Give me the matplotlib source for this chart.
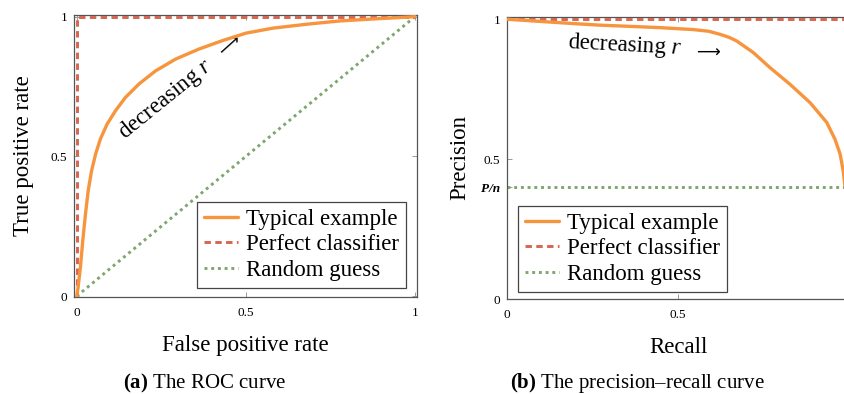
import numpy as np
import matplotlib
matplotlib.use('Agg')
import matplotlib.pyplot as plt

plt.rcParams['font.family'] = ['Liberation Serif', 'DejaVu Sans']
plt.rcParams['mathtext.fontset'] = 'custom'
plt.rcParams['mathtext.rm'] = 'Liberation Serif'
plt.rcParams['mathtext.it'] = 'Liberation Serif:italic'
plt.rcParams['mathtext.bf'] = 'Liberation Serif:bold'

# (a) ROC curve, typical example
fpr = [0, 0.004, 0.011, 0.018, 0.026, 0.034, 0.044, 0.056, 0.07, 0.09, 0.115, 0.144,
       0.184, 0.233, 0.292, 0.361, 0.43, 0.5, 0.58, 0.68, 0.78, 0.88, 1.0]
tpr = [0, 0.03, 0.104, 0.2, 0.295, 0.378, 0.449, 0.509, 0.5625, 0.616, 0.664, 0.711,
       0.759, 0.806, 0.848, 0.884, 0.914, 0.941, 0.959, 0.973, 0.985, 0.992, 1.0]
roc_perfect_x = [0, 0, 1]
roc_perfect_y = [0, 1, 1]
roc_random_x = [0, 1]
roc_random_y = [0, 1]

# (b) precision-recall curve
recall = [0, 0.1, 0.2, 0.27, 0.35, 0.447, 0.545, 0.59, 0.623, 0.65, 0.672, 0.72, 0.769, 0.827,
          0.886, 0.935, 0.959, 0.974, 0.983, 0.988, 1.0]
precision = [1.0, 0.992, 0.984, 0.979, 0.975, 0.970, 0.963, 0.957, 0.946, 0.935, 0.922, 0.881,
             0.827, 0.768, 0.702, 0.631, 0.571, 0.518, 0.458, 0.405, 0.4]
p_over_n = 0.4
pr_perfect_x = [0, 1]
pr_perfect_y = [1, 1]
pr_random_x = [0, 1]
pr_random_y = [p_over_n, p_over_n]

labels = ['Typical example', 'Perfect classifier', 'Random guess']
c_typ = '#F7953F'
c_perf = '#D5664F'
c_rand = '#7FA66F'

W, H = 845, 394
fig = plt.figure(figsize=(W / 100, H / 100), dpi=100)


def px_axes(l, t, r, b):
    return fig.add_axes([l / W, 1 - b / H, (r - l) / W, (b - t) / H])


def style(ax):
    for s in ax.spines.values():
        s.set_color('#555555')
        s.set_linewidth(0.9)
    ax.tick_params(direction='in', top=True, right=True, length=3.5, width=0.7,
                   color='#999999', labelsize=9.5, pad=7)
    ax.tick_params(axis='y', pad=5)


def draw(ax, typ, perf, rand, legend_loc, anchor):
    h1, = ax.plot(*typ, color=c_typ, lw=2.4, zorder=4,
                  solid_capstyle='round', solid_joinstyle='round')
    h2, = ax.plot(*perf, color=c_perf, lw=2.1, dashes=(2.2, 1.5), zorder=3)
    h3, = ax.plot(*rand, color=c_rand, lw=2.1, dashes=(1, 1.3), zorder=2)
    leg = ax.legend([h1, h2, h3], labels, loc=legend_loc, bbox_to_anchor=anchor,
                    borderaxespad=0, fontsize=16.5, fancybox=False, framealpha=1,
                    edgecolor='#444444', handlelength=1.5, handletextpad=0.35,
                    labelspacing=0.2, borderpad=0.3)
    leg.get_frame().set_linewidth(0.9)
    leg.set_zorder(5)


def note(ax, xy_text, xy_arrow, angle, arrow_angle):
    ax.text(*xy_text, 'decreasing $r$', fontsize=16.5, rotation=angle,
            ha='center', va='center', rotation_mode='anchor')
    ax.text(*xy_arrow, '⟶', family='DejaVu Sans', fontsize=12, rotation=arrow_angle,
            ha='center', va='center', rotation_mode='anchor')


# left panel: ROC
ax1 = px_axes(74, 15, 417, 297)
style(ax1)
draw(ax1, (fpr, tpr), (roc_perfect_x, roc_perfect_y), (roc_random_x, roc_random_y),
     'lower right', (0.968, 0.032))
ax1.set_xlim(-0.008, 1.006)
ax1.set_ylim(-0.003, 1.006)
ax1.set_xticks([0, 0.5, 1])
ax1.set_xticklabels(['0', '0.5', '1'])
ax1.set_yticks([0, 0.5, 1])
ax1.set_yticklabels(['0', '0.5', '1'])
ax1.set_xlabel('False positive rate', fontsize=16.5, labelpad=12)
ax1.set_ylabel('True positive rate', fontsize=16.5, labelpad=12)
note(ax1, (0.262, 0.705), (0.452, 0.898), 39, 42)

# right panel: precision-recall (its right edge runs off the picture)
ax2 = px_axes(507, 17, 849, 299)
style(ax2)
draw(ax2, (recall, precision), (pr_perfect_x, pr_perfect_y), (pr_random_x, pr_random_y),
     'lower left', (0.032, 0.025))
ax2.set_xlim(0, 1.0)
ax2.set_ylim(0, 1.008)
ax2.set_xticks([0, 0.5, 1])
ax2.set_xticklabels(['0', '0.5', ''])
ax2.set_yticks([0, p_over_n, 0.5, 1])
ax2.set_yticklabels(['0', 'P/n', '0.5', '1'])
pn = ax2.get_yticklabels()[1]
pn.set_fontstyle('italic')
pn.set_fontweight('bold')
ax2.set_xlabel('Recall', fontsize=16.5, labelpad=12)
ax2.set_ylabel('Precision', fontsize=16.5, labelpad=8)
note(ax2, (0.345, 0.905), (0.588, 0.882), -3, 0)

# sub-captions
fig.text(205 / W, 1 - 383 / H, r'$\mathbf{(a)}$ The ROC curve', fontsize=15,
         ha='center', va='center')
fig.text(637 / W, 1 - 383 / H, r'$\mathbf{(b)}$ The precision–recall curve', fontsize=15,
         ha='center', va='center')

fig.savefig('out.png', dpi=100)
